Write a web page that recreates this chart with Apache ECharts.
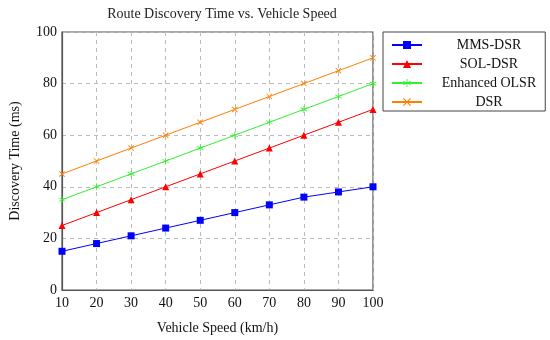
<!DOCTYPE html>
<html>
<head>
<meta charset="utf-8">
<script src="https://cdn.jsdelivr.net/npm/echarts@6/dist/echarts.min.js"></script>
<style>html,body{margin:0;padding:0;background:#fff}#c{width:550px;height:340px}</style>
</head>
<body>
<div id="c"></div>
<script>
const speeds = [10, 20, 30, 40, 50, 60, 70, 80, 90, 100];
const mmsDsr = [15, 18, 21, 24, 27, 30, 33, 36, 38, 40];
const solDsr = [25, 30, 35, 40, 45, 50, 55, 60, 65, 70];
const enhancedOlsr = [35, 40, 45, 50, 55, 60, 65, 70, 75, 80];
const dsr = [45, 50, 55, 60, 65, 70, 75, 80, 85, 90];
const seriesNames = ['MMS-DSR', 'SOL-DSR', 'Enhanced OLSR', 'DSR'];

const FONT = '"Liberation Serif", "DejaVu Serif", serif';
const asterisk = 'path://M4.5,0 L5.5,0 L5.5,10 L4.5,10 Z M0.42,2.93 L9.08,7.93 L9.58,7.07 L0.92,2.07 Z M0.92,7.93 L9.58,2.93 L9.08,2.07 L0.42,7.07 Z';
const xmark = 'path://M0,1 L1,0 L10,9 L9,10 Z M9,0 L10,1 L1,10 L0,9 Z';

function pairs(vals){ return speeds.map((s,i)=>[s, vals[i]]); }

const chart = echarts.init(document.getElementById('c'), null, {renderer:'canvas'});
const mk = (name, vals, color, symbol, size) => ({
  name, type:'line', data: pairs(vals), symbol, symbolSize:size,
  lineStyle:{color, width:1}, itemStyle:{color}, animation:false
});
chart.setOption({
  animation:false,
  backgroundColor:'#fff',
  title:{text:'Route Discovery Time vs. Vehicle Speed', left:217, textAlign:'center', top:2,
    textStyle:{fontFamily:FONT, fontSize:14, fontWeight:'normal', color:'#222'}},
  grid:{left:61, right:177, top:32, bottom:45, show:true, borderColor:'#555', borderWidth:1.2},
  legend:{orient:'vertical', left:383, top:32, data:seriesNames,
    backgroundColor:'#fff', borderColor:'#444', borderWidth:1, padding:[6,9,2,8],
    itemWidth:30, itemHeight:10, itemGap:5,
    formatter: n => '{c|' + n + '}',
    textStyle:{fontFamily:FONT, fontSize:14, color:'#111',
      rich:{c:{width:124, height:16, align:'center', fontFamily:FONT, fontSize:14, color:'#111'}}}},
  xAxis:{type:'value', min:10, max:100, interval:10,
    name:'Vehicle Speed (km/h)', nameLocation:'middle', nameGap:31,
    nameTextStyle:{fontFamily:FONT, fontSize:14, color:'#111'},
    axisLine:{show:true, lineStyle:{color:'#555', width:1.2}}, axisTick:{show:false},
    axisLabel:{fontFamily:FONT, fontSize:14, color:'#111', margin:6},
    splitLine:{show:true, lineStyle:{color:'#bbb', type:[4,4], width:1}}},
  yAxis:{type:'value', min:0, max:100, interval:20,
    name:'Discovery Time (ms)', nameLocation:'middle', nameGap:40,
    nameTextStyle:{fontFamily:FONT, fontSize:14, color:'#111'},
    axisLine:{show:true, lineStyle:{color:'#555', width:1.2}}, axisTick:{show:false},
    axisLabel:{fontFamily:FONT, fontSize:14, color:'#111', margin:5},
    splitLine:{show:true, lineStyle:{color:'#bbb', type:[4,4], width:1}}},
  series:[
    mk('MMS-DSR', mmsDsr, '#0000ff', 'rect', 7),
    mk('SOL-DSR', solDsr, '#ff0000', 'triangle', 7),
    mk('Enhanced OLSR', enhancedOlsr, '#33ee33', asterisk, 7),
    mk('DSR', dsr, '#ff8000', xmark, 6)
  ]
});
</script>
</body>
</html>
